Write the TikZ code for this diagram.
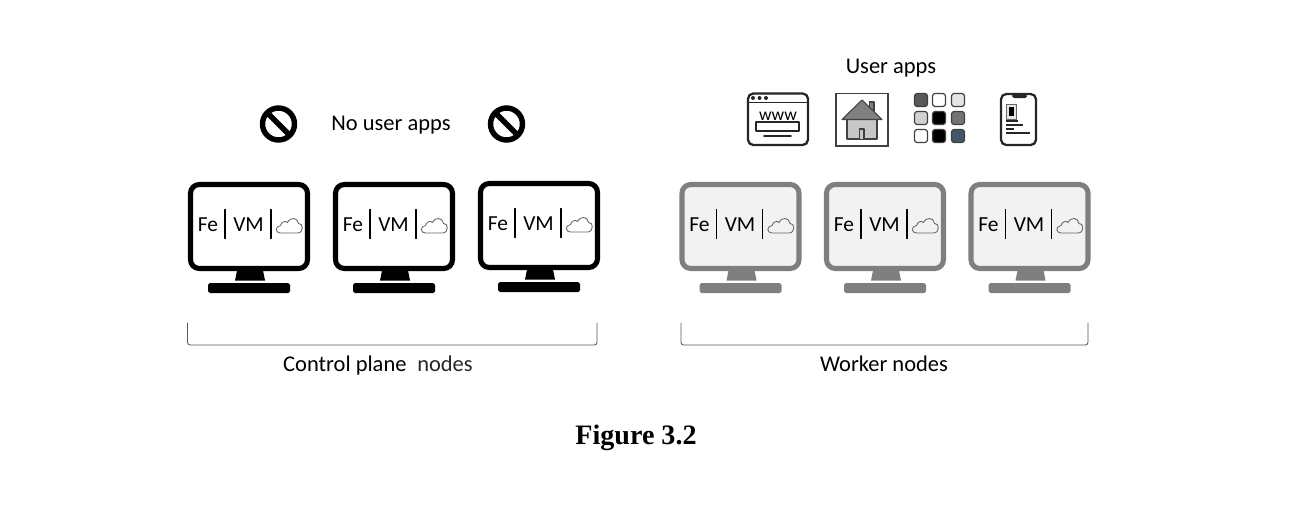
\documentclass[tikz,border=0pt]{standalone}
\usepackage{fontspec}
\setmainfont{Carlito}
\newfontfamily\capfont{Liberation Serif}
\definecolor{wgrey}{HTML}{7F7F7F}
\definecolor{wfill}{HTML}{F2F2F2}
\definecolor{slate}{HTML}{44546A}
\tikzset{
	lbl/.style={inner sep=0pt, anchor=base, font={\fontsize{12.8pt}{0pt}\selectfont}},
	scr/.style={inner sep=0pt, anchor=base, font={\fontsize{12.2pt}{0pt}\selectfont}},
	iconline/.style={line width=1.3pt, draw=black!85},
	tile/.style={line width=0.7pt, draw=black!75, rounded corners=1.5pt},
	stopsign/.style={line width=3.1pt},
}
\begin{document}
\begin{tikzpicture}[x=0.02cm,y=-0.02cm, line join=round, line cap=round]
		\useasboundingbox (0,0) rectangle (1296,508);
		% monitors
		\foreach \i/\x/\y/\c/\f in {1/190.5/184.5/black/white,2/335.5/184.5/black/white,3/480.5/183.5/black/white,4/682/184.5/wgrey/wfill,5/826.5/184.5/wgrey/wfill,6/971/184.5/wgrey/wfill}
		{
			\begin{scope}[shift={(\x,\y)}]
				\draw[\c,fill=\f,line width=2.9pt,rounded corners=5pt] (0,0) rectangle (117,84);
				\fill[\c] (46.5,86)--(72.5,86)--(74.5,96)--(44.5,96)--cycle;
				\fill[\c,rounded corners=1pt] (17.5,98.5) rectangle (99.5,108.5);
				\node[scr] (fe\i) at (17.5,46.8) {Fe};
				\node[scr] (vm\i) at (58,46.8) {VM};
				\draw[line width=0.8pt] (34.5,25)--(34.5,54);
				\draw[line width=0.8pt] (80.5,25)--(80.5,54);
				\draw[black!60,line width=0.5pt] (90,48.5) .. controls (85,48.5) and (84,42) .. (90,41) .. controls (91,37) and (95,36) .. (97,38) .. controls (100,32) and (107,33) .. (108,39) .. controls (113,38) and (113.5,48.5) .. (107,48.5)--cycle;
			\end{scope}
		}
		% no user apps
		\node[lbl] (nouser) at (391,130.8) {No user apps};
		\foreach \n/\x in {stopa/278.5,stopb/506.5}
		{
			\coordinate (\n) at (\x,124);
			\draw[stopsign] (\n) circle [radius=16];
			\draw[stopsign,line cap=butt] (\x-11,113)--(\x+11,135);
		}
		% user apps
		\node[lbl] (userapps) at (891,73.8) {User apps};
		% browser
		\draw[iconline,rounded corners=3pt] (748,93.5) rectangle (808,145);
		\draw[iconline,line width=0.9pt] (748,102.5)--(808,102.5);
		\foreach \x in {753,759.5,766}
		{\fill[black!85] (\x,98) circle [radius=2];}
		\node[inner sep=0pt,anchor=base,font={\fontsize{10pt}{0pt}\selectfont}] (www) at (778,120) {www};
		\draw[iconline,line width=1.1pt,fill=white] (756,122)--(799,122)--(799,131)--(756,131)--cycle;
		\draw[iconline,line width=0.9pt] (764,136)--(791,136);
		% house
		\draw[black!75,line width=0.9pt,line join=miter] (836,93.5) rectangle (888,146);
		\draw[black!75,fill=black!50,line width=0.6pt] (869.5,102) rectangle (874,112);
		\draw[black!75,fill=black!22,line width=0.6pt] (847,119) rectangle (877,139);
		\draw[black!75,fill=black!50,line width=0.6pt] (862,100)--(882,119.5)--(842,119.5)--cycle;
		\draw[black!75,fill=black!22,line width=0.6pt] (859.5,139)--(859.5,129)--(864,129)--(864,139);
		% tiles
		\foreach \col/\row/\f in {921/100/black!65,939/100/white,958/100/black!10,921/118/black!18,939/118/black,958/118/black!55,921/136/white,939/136/black,958/136/slate}
		{\draw[tile,fill=\f] (\col-6.5,\row-6.5) rectangle (\col+6.5,\row+6.5);}
		% phone
		\draw[iconline,rounded corners=3pt] (1001,94) rectangle (1036,145);
		\fill[black!85,rounded corners=1pt] (1012,94) rectangle (1027,98);
		\draw[black!60,fill=black!10,line width=0.5pt] (1006,104) rectangle (1016,119);
		\fill[black] (1008.5,107) rectangle (1013.5,116);
		\foreach \y/\x in {121/1018,125/1023,129/1014,133/1030}
		{\draw[black!85,line width=0.7pt,line cap=butt] (1006,\y)--(\x,\y);}
		% brackets
		\coordinate (ctla) at (187.5,323);
		\coordinate (ctlb) at (597,323);
		\coordinate (wrka) at (681,323);
		\coordinate (wrkb) at (1088,323);
		\draw[black!65,line width=0.5pt,rounded corners=1.5pt] (ctla)--(187.5,345)--(597,345)--(ctlb);
		\draw[black!65,line width=0.5pt,rounded corners=1.5pt] (wrka)--(681,345)--(1088,345)--(wrkb);
		\node[lbl] (ctlnodes) at (378,371.5) {Control plane\hspace{0.25em} \textcolor{black!85}{nodes}};
		\node[lbl] (wrknodes) at (884,371.5) {Worker nodes};
		\node[inner sep=0pt,anchor=base,font={\capfont\bfseries\fontsize{16pt}{0pt}\selectfont}] (figcap) at (636,444) {Figure 3.2};
\end{tikzpicture}
\end{document}
